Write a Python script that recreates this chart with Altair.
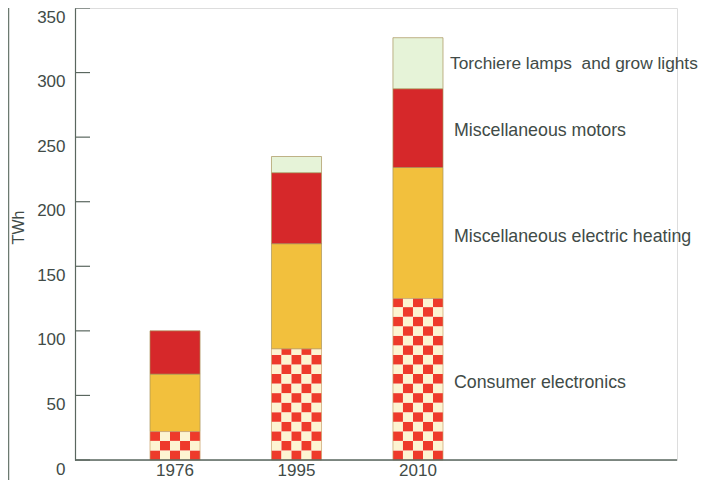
import altair as alt
import pandas as pd

# ---- data ----
years = ["1976", "1995", "2010"]
consumer = [22, 86, 125]
heating = [44.5, 81.5, 101.5]
motors = [33.5, 55, 61]
torchiere = [0, 12.5, 39.5]

y_ticks = [0, 50, 100, 150, 200, 250, 300, 350]

label_texts = ["Miscellaneous motors", "Miscellaneous electric heating",
               "Consumer electronics"]
label_y = [255, 173, 60]
top_label = "Torchiere lamps\u00a0 and grow lights"
top_label_y = [307]

# ---- style ----
C_RED = "#ee3a2b"
C_CREAM = "#fdf4d2"
C_HEAT = "#f2c03d"
C_MOTOR = "#d6282a"
C_TORCH = "#e6f3d8"
AXIS = "#5a675f"
TEXT = "#414b47"
FONT = "Liberation Sans"

W, H = 602, 452

# solid stacked segments (heating, motors, torchiere)
rows = []
for i, yr in enumerate(years):
    b0 = consumer[i]
    b1 = b0 + heating[i]
    b2 = b1 + motors[i]
    b3 = b2 + torchiere[i]
    rows.append(dict(year=yr, seg="heat", y0=b0, y1=b1))
    rows.append(dict(year=yr, seg="motor", y0=b1, y1=b2))
    if torchiere[i] > 0:
        rows.append(dict(year=yr, seg="torch", y0=b2, y1=b3))
seg_df = pd.DataFrame(rows)

# checkered consumer-electronics texture
cell_h = 7.4
ncols = 5
cells = []
for i, yr in enumerate(years):
    k = 0
    while k * cell_h < consumer[i] - 0.01:
        lo = k * cell_h
        hi = min((k + 1) * cell_h, consumer[i])
        for c in range(ncols):
            cells.append(dict(year=yr, col=c, y0=lo, y1=hi,
                              par="r" if (k + c) % 2 == 0 else "w"))
        k += 1
cell_df = pd.DataFrame(cells)
ce_df = pd.DataFrame(dict(year=years, y0=[0] * 3, y1=consumer))

x_scale = alt.Scale(domain=years, range=[75, 368], paddingInner=0.588, paddingOuter=0)
y_scale = alt.Scale(domain=[0, 350], nice=False, zero=True)

x_axis = alt.Axis(title=None, ticks=False, domain=False, labelAngle=0,
                  labelFontSize=17, labelPadding=2, labelColor=TEXT,
                  labelFont=FONT)
x_enc = alt.X("year:N", scale=x_scale, sort=years, axis=x_axis)

y_axis = alt.Axis(values=y_ticks, ticks=False, grid=False, labelPadding=10,
                  labelOffset=9, labelFontSize=17, labelColor=TEXT,
                  labelFont=FONT, title="TWh", titleFontSize=16,
                  titleFontWeight="normal", titleColor=TEXT, titleFont=FONT,
                  titlePadding=10, titleY=219, domainColor=AXIS,
                  domainWidth=1.2)
y_enc = alt.Y("y0:Q", scale=y_scale, axis=y_axis)

solid = alt.Chart(seg_df).mark_bar(stroke="#a8935a", strokeWidth=0.7).encode(
    x=x_enc,
    y=y_enc,
    y2="y1:Q",
    color=alt.Color("seg:N", scale=alt.Scale(domain=["heat", "motor", "torch"],
                                             range=[C_HEAT, C_MOTOR, C_TORCH]),
                    legend=None),
)

checker = alt.Chart(cell_df).mark_bar(strokeWidth=0).encode(
    x=x_enc,
    xOffset=alt.XOffset("col:O", scale=alt.Scale(paddingInner=0, paddingOuter=0)),
    y=y_enc,
    y2="y1:Q",
    fill=alt.Fill("par:N", scale=alt.Scale(domain=["r", "w"], range=[C_RED, C_CREAM]),
                  legend=None),
)

ce_outline = alt.Chart(ce_df).mark_bar(fillOpacity=0, stroke="#c9a06a",
                                       strokeWidth=0.7).encode(
    x=x_enc,
    y=y_enc,
    y2="y1:Q",
)

tick_df = pd.DataFrame(dict(v=y_ticks))
ticks = alt.Chart(tick_df).mark_rule(color=AXIS, strokeWidth=1.2).encode(
    y=alt.Y("v:Q", scale=y_scale, axis=y_axis),
    x=alt.value(0),
    x2=alt.value(15),
)

base_line = alt.Chart(pd.DataFrame(dict(v=[0]))).mark_rule(color=AXIS, strokeWidth=1.4).encode(
    y=alt.Y("v:Q", scale=y_scale, axis=y_axis),
    x=alt.value(0),
    x2=alt.value(W),
)

border = alt.Chart(pd.DataFrame(dict(v=[0]))).mark_rule(color="#6c7a70", strokeWidth=1.5).encode(
    x=alt.value(-66.5),
    y=alt.value(0),
    y2=alt.value(H + 20),
)

lab_df = pd.DataFrame(dict(t=label_texts, y=label_y))
labels = alt.Chart(lab_df).mark_text(align="left", baseline="middle", fontSize=17.8,
                                     font=FONT, color=TEXT).encode(
    y=alt.Y("y:Q", scale=y_scale, axis=y_axis),
    x=alt.value(379),
    text="t:N",
)

top_df = pd.DataFrame(dict(t=[top_label], y=top_label_y))
top_lab = alt.Chart(top_df).mark_text(align="left", baseline="middle", fontSize=17.3,
                                      font=FONT, color=TEXT).encode(
    y=alt.Y("y:Q", scale=y_scale, axis=y_axis),
    x=alt.value(375),
    text="t:N",
)

chart = alt.layer(solid, checker, ce_outline, ticks, base_line, border, labels, top_lab).properties(
    width=W, height=H,
    autosize=alt.AutoSizeParams(type="none"),
    padding={"left": 67, "top": 0, "right": 28, "bottom": 20},
).configure_view(stroke=None).configure(background="white")

chart.save("out.html", embed_options={"renderer": "svg", "actions": False})
